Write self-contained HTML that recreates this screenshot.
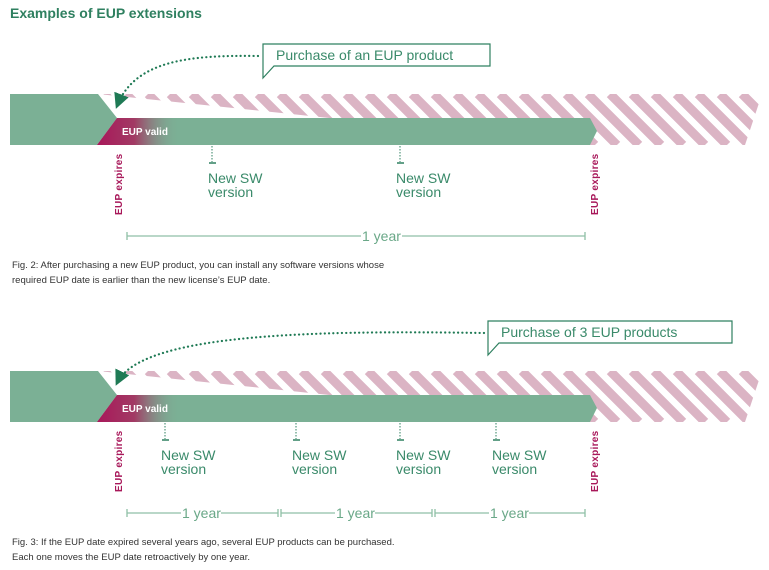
<!DOCTYPE html>
<html><head><meta charset="utf-8"><style>
html,body{margin:0;padding:0;background:#fff;width:769px;height:570px;overflow:hidden}
svg{display:block}
text{font-family:"Liberation Sans",sans-serif}
</style></head><body>
<svg width="769" height="570" viewBox="0 0 769 570" xmlns="http://www.w3.org/2000/svg">
<defs>
<clipPath id="hc"><polygon points="98,94 762,94 745,145 590,145"/></clipPath>
<linearGradient id="mg" x1="0" y1="0" x2="1" y2="0">
<stop offset="0" stop-color="#a8185a"/>
<stop offset="0.45" stop-color="#a23a64"/>
<stop offset="1" stop-color="#7bb095" stop-opacity="0"/>
</linearGradient>
<marker id="ar" viewBox="0 0 10 10" refX="8" refY="5" markerWidth="7" markerHeight="7" orient="auto">
<path d="M0,0 L10,5 L0,10 z" fill="#1f7a55"/>
</marker>
<g id="bar">
<g clip-path="url(#hc)" stroke="#dbb4c4" stroke-width="9">
<path d="M60,94 l51,51 M82,94 l51,51 M104,94 l51,51 M126,94 l51,51 M148,94 l51,51 M170,94 l51,51 M192,94 l51,51 M214,94 l51,51 M236,94 l51,51 M258,94 l51,51 M280,94 l51,51 M302,94 l51,51 M324,94 l51,51 M346,94 l51,51 M368,94 l51,51 M390,94 l51,51 M412,94 l51,51 M434,94 l51,51 M456,94 l51,51 M478,94 l51,51 M500,94 l51,51 M522,94 l51,51 M544,94 l51,51 M566,94 l51,51 M588,94 l51,51 M610,94 l51,51 M632,94 l51,51 M654,94 l51,51 M676,94 l51,51 M698,94 l51,51 M720,94 l51,51 M742,94 l51,51"/>
</g>
<polygon points="10,94 98,94 117,118 97,145 10,145" fill="#7bb095"/>
<polygon points="117,118 590,118 597,131 590,145 97,145" fill="#7bb095"/>
<polygon points="117,118 180,118 180,145 97,145" fill="url(#mg)"/>
<text x="122" y="135" font-size="10" font-weight="bold" fill="#fff">EUP valid</text>
<text transform="translate(122,215) rotate(-90)" font-size="10" font-weight="bold" fill="#a8185a" letter-spacing="0.3">EUP expires</text>
<text transform="translate(598,215) rotate(-90)" font-size="10" font-weight="bold" fill="#a8185a" letter-spacing="0.3">EUP expires</text>
</g>
</defs>
<text x="10" y="18" font-size="14" font-weight="bold" fill="#2f8060">Examples of EUP extensions</text>

<use href="#bar"/>
<g stroke="#2f8060" fill="none">
<path d="M212,146 V162" stroke-dasharray="1.5,1.5"/>
<path d="M209,163 H216" stroke-width="1.5"/>
<path d="M400,146 V162" stroke-dasharray="1.5,1.5"/>
<path d="M397,163 H404" stroke-width="1.5"/>
</g>
<g font-size="14" fill="#3a8a6a">
<text x="208" y="183">New SW</text><text x="208" y="197">version</text>
<text x="396" y="183">New SW</text><text x="396" y="197">version</text>
</g>
<g stroke="#8fbfa6" stroke-width="1.3">
<path d="M127,236 H361 M402,236 H585 M127,232 V240 M585,232 V240"/>
</g>
<text x="362" y="241" font-size="14" fill="#6aa888">1 year</text>
<path d="M258,56 C190,55 135,60 117,106" stroke="#1f7a55" stroke-width="2.2" fill="none" stroke-dasharray="0.1,4.2" stroke-linecap="round" marker-end="url(#ar)"/>
<path d="M263,44 H490 V66 H274 L263,78 Z" fill="#fff" stroke="#2f8060" stroke-width="1.2"/>
<text x="276" y="60" font-size="14" fill="#3a8a6a">Purchase of an EUP product</text>
<text x="12" y="268" font-size="9.5" fill="#333">Fig. 2: After purchasing a new EUP product, you can install any software versions whose</text>
<text x="12" y="283" font-size="9.5" fill="#333">required EUP date is earlier than the new license’s EUP date.</text>

<g transform="translate(0,277)"><use href="#bar"/></g>
<g transform="translate(0,277)">
<g stroke="#2f8060" fill="none">
<path d="M165,146 V162" stroke-dasharray="1.5,1.5"/><path d="M162,163 H169" stroke-width="1.5"/>
<path d="M296,146 V162" stroke-dasharray="1.5,1.5"/><path d="M293,163 H300" stroke-width="1.5"/>
<path d="M400,146 V162" stroke-dasharray="1.5,1.5"/><path d="M397,163 H404" stroke-width="1.5"/>
<path d="M496,146 V162" stroke-dasharray="1.5,1.5"/><path d="M493,163 H500" stroke-width="1.5"/>
</g>
<g font-size="14" fill="#3a8a6a">
<text x="161" y="183">New SW</text><text x="161" y="197">version</text>
<text x="292" y="183">New SW</text><text x="292" y="197">version</text>
<text x="396" y="183">New SW</text><text x="396" y="197">version</text>
<text x="492" y="183">New SW</text><text x="492" y="197">version</text>
</g>
<g stroke="#8fbfa6" stroke-width="1.3">
<path d="M127,236 H181 M221,236 H278 M127,232 V240 M278,232 V240"/>
<path d="M281,236 H335 M375,236 H432 M281,232 V240 M432,232 V240"/>
<path d="M435,236 H489 M529,236 H585 M435,232 V240 M585,232 V240"/>
</g>
<g font-size="14" fill="#6aa888">
<text x="182" y="241">1 year</text><text x="336" y="241">1 year</text><text x="490" y="241">1 year</text>
</g>
</g>
<path d="M484,333 C300,330 140,335 117,383" stroke="#1f7a55" stroke-width="2.2" fill="none" stroke-dasharray="0.1,4.2" stroke-linecap="round" marker-end="url(#ar)"/>
<path d="M488,321 H732 V343 H499 L488,355 Z" fill="#fff" stroke="#2f8060" stroke-width="1.2"/>
<text x="501" y="337" font-size="14" fill="#3a8a6a">Purchase of 3 EUP products</text>
<text x="12" y="545" font-size="9.5" fill="#333">Fig. 3: If the EUP date expired several years ago, several EUP products can be purchased.</text>
<text x="12" y="560" font-size="9.5" fill="#333">Each one moves the EUP date retroactively by one year.</text>
</svg>
</body></html>
